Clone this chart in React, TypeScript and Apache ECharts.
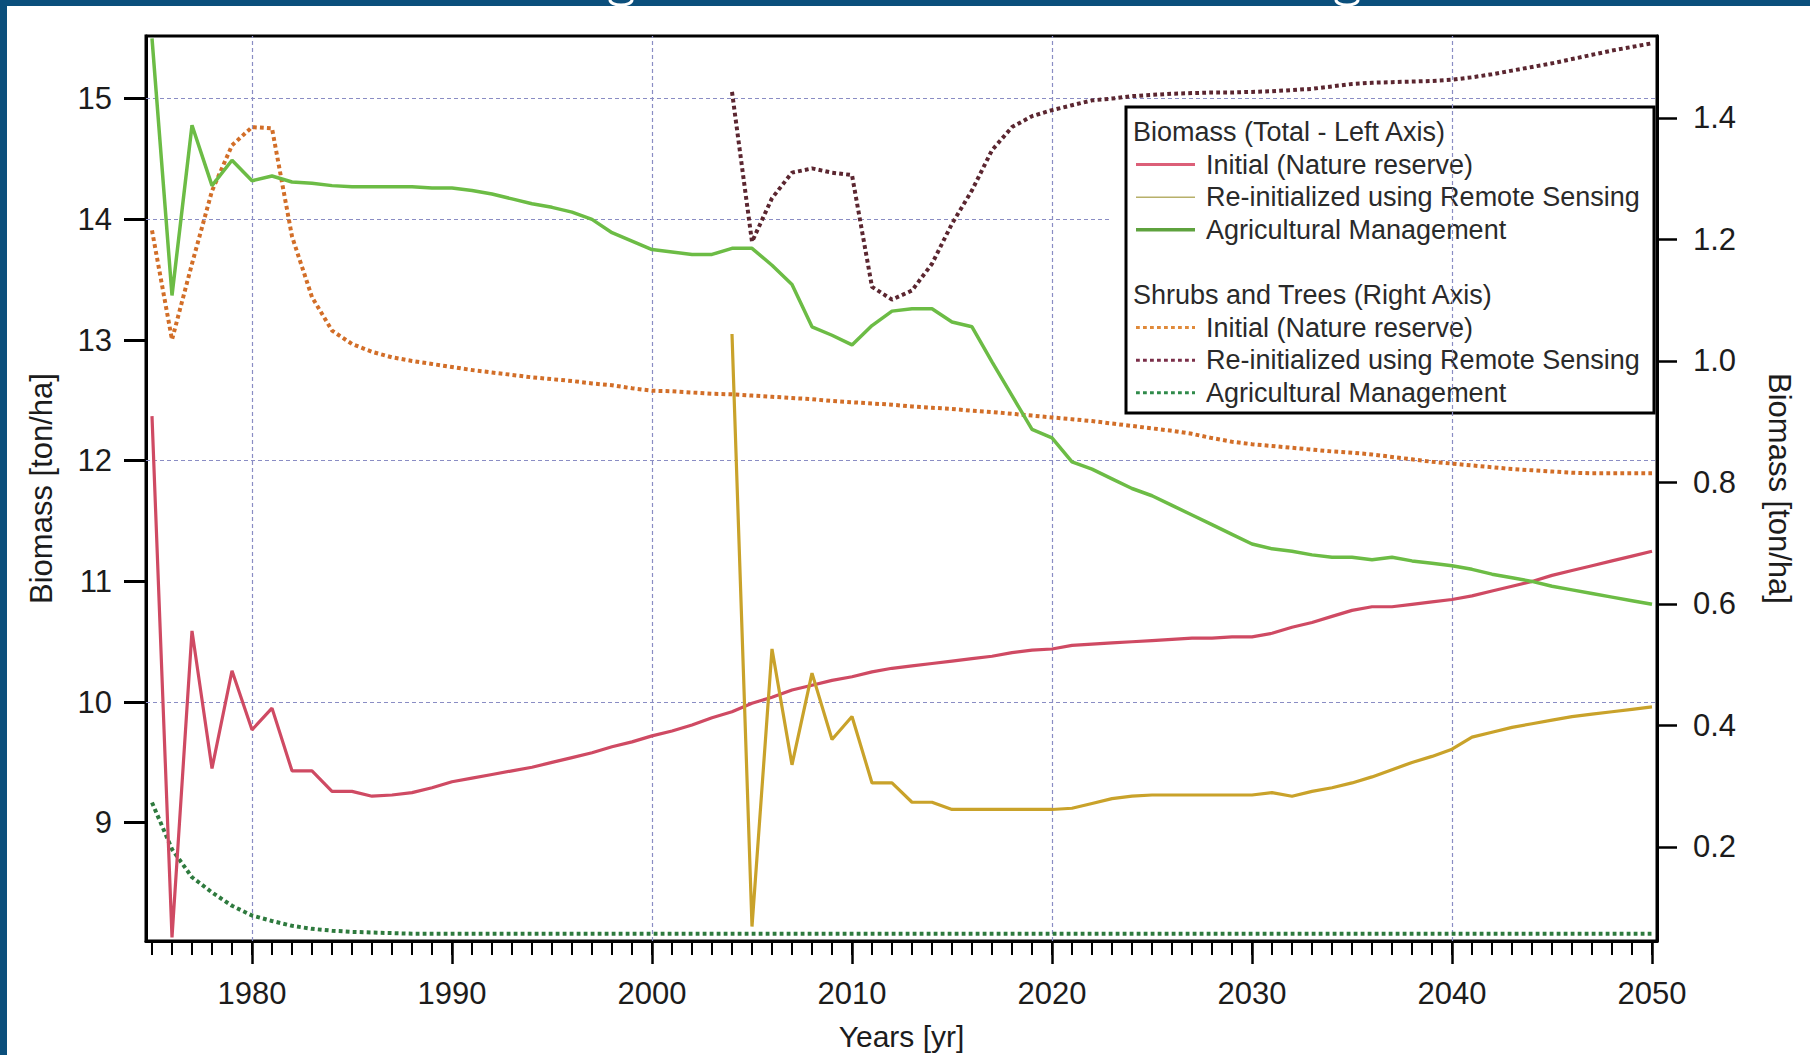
import React, { useEffect, useRef } from 'react';
import * as echarts from 'echarts';

const years = [
  1975, 1976, 1977, 1978, 1979, 1980, 1981, 1982, 1983, 1984,
  1985, 1986, 1987, 1988, 1989, 1990, 1991, 1992, 1993, 1994,
  1995, 1996, 1997, 1998, 1999, 2000, 2001, 2002, 2003, 2004,
  2005, 2006, 2007, 2008, 2009, 2010, 2011, 2012, 2013, 2014,
  2015, 2016, 2017, 2018, 2019, 2020, 2021, 2022, 2023, 2024,
  2025, 2026, 2027, 2028, 2029, 2030, 2031, 2032, 2033, 2034,
  2035, 2036, 2037, 2038, 2039, 2040, 2041, 2042, 2043, 2044,
  2045, 2046, 2047, 2048, 2049, 2050,
];
const reinitYears = [
  2004, 2005, 2006, 2007, 2008, 2009, 2010, 2011, 2012, 2013,
  2014, 2015, 2016, 2017, 2018, 2019, 2020, 2021, 2022, 2023,
  2024, 2025, 2026, 2027, 2028, 2029, 2030, 2031, 2032, 2033,
  2034, 2035, 2036, 2037, 2038, 2039, 2040, 2041, 2042, 2043,
  2044, 2045, 2046, 2047, 2048, 2049, 2050,
];

// Total biomass (left axis)
const totalInitial = [
  12.37, 8.05, 10.59, 9.45, 10.26, 9.77, 9.95, 9.43, 9.43, 9.26,
  9.26, 9.22, 9.23, 9.25, 9.29, 9.34, 9.37, 9.4, 9.43, 9.46,
  9.5, 9.54, 9.58, 9.63, 9.67, 9.72, 9.76, 9.81, 9.87, 9.92,
  9.99, 10.04, 10.1, 10.14, 10.18, 10.21, 10.25, 10.28, 10.3, 10.32,
  10.34, 10.36, 10.38, 10.41, 10.43, 10.44, 10.47, 10.48, 10.49, 10.5,
  10.51, 10.52, 10.53, 10.53, 10.54, 10.54, 10.57, 10.62, 10.66, 10.71,
  10.76, 10.79, 10.79, 10.81, 10.83, 10.85, 10.88, 10.92, 10.96, 11.0,
  11.05, 11.09, 11.13, 11.17, 11.21, 11.25,
];
const totalReinit = [
  13.05, 8.14, 10.44, 9.48, 10.24, 9.69, 9.88, 9.33, 9.33, 9.17,
  9.17, 9.11, 9.11, 9.11, 9.11, 9.11, 9.11, 9.12, 9.16, 9.2,
  9.22, 9.23, 9.23, 9.23, 9.23, 9.23, 9.23, 9.25, 9.22, 9.26,
  9.29, 9.33, 9.38, 9.44, 9.5, 9.55, 9.61, 9.71, 9.75, 9.79,
  9.82, 9.85, 9.88, 9.9, 9.92, 9.94, 9.96,
];
const totalAgri = [
  15.5, 13.37, 14.78, 14.28, 14.49, 14.32, 14.36, 14.31, 14.3, 14.28,
  14.27, 14.27, 14.27, 14.27, 14.26, 14.26, 14.24, 14.21, 14.17, 14.13,
  14.1, 14.06, 14.0, 13.89, 13.82, 13.75, 13.73, 13.71, 13.71, 13.76,
  13.76, 13.62, 13.46, 13.11, 13.04, 12.96, 13.12, 13.24, 13.26, 13.26,
  13.15, 13.11, 12.82, 12.54, 12.26, 12.19, 11.99, 11.93, 11.85, 11.77,
  11.71, 11.63, 11.55, 11.47, 11.39, 11.31, 11.27, 11.25, 11.22, 11.2,
  11.2, 11.18, 11.2, 11.17, 11.15, 11.13, 11.1, 11.06, 11.03, 11.0,
  10.96, 10.93, 10.9, 10.87, 10.84, 10.81,
];

// Shrubs and trees (right axis)
const shrubInitial = [
  1.215, 1.035, 1.16, 1.28, 1.355, 1.385, 1.383, 1.205, 1.105, 1.05,
  1.028, 1.015, 1.006, 1.0, 0.995, 0.99, 0.985, 0.981, 0.977, 0.973,
  0.97, 0.967, 0.963, 0.96, 0.955, 0.951, 0.95, 0.948, 0.946, 0.945,
  0.943, 0.941, 0.939, 0.937, 0.934, 0.932, 0.93, 0.928, 0.925, 0.923,
  0.921, 0.918, 0.916, 0.913, 0.91, 0.907, 0.904, 0.901, 0.897, 0.893,
  0.889, 0.885, 0.88, 0.873, 0.867, 0.863, 0.86, 0.857, 0.854, 0.851,
  0.849, 0.846, 0.842, 0.838, 0.834, 0.831, 0.828, 0.825, 0.822, 0.82,
  0.818, 0.816, 0.815, 0.815, 0.815, 0.815,
];
const shrubReinit = [
  1.443, 1.196, 1.268, 1.31, 1.317, 1.31, 1.306, 1.122, 1.101, 1.116,
  1.16, 1.226, 1.281, 1.347, 1.385, 1.403, 1.413, 1.421, 1.429, 1.432,
  1.436, 1.438, 1.44, 1.441, 1.442, 1.442, 1.443, 1.444, 1.446, 1.448,
  1.452, 1.456, 1.458, 1.459, 1.46, 1.461, 1.463, 1.467, 1.472, 1.478,
  1.484, 1.49, 1.497, 1.504, 1.511, 1.517, 1.523,
];
const shrubAgri = [
  0.273, 0.196, 0.15, 0.125, 0.103, 0.087, 0.078, 0.07, 0.065, 0.062,
  0.06, 0.059, 0.058, 0.057, 0.057, 0.057, 0.057, 0.057, 0.057, 0.057,
  0.057, 0.057, 0.057, 0.057, 0.057, 0.057, 0.057, 0.057, 0.057, 0.057,
  0.057, 0.057, 0.057, 0.057, 0.057, 0.057, 0.057, 0.057, 0.057, 0.057,
  0.057, 0.057, 0.057, 0.057, 0.057, 0.057, 0.057, 0.057, 0.057, 0.057,
  0.057, 0.057, 0.057, 0.057, 0.057, 0.057, 0.057, 0.057, 0.057, 0.057,
  0.057, 0.057, 0.057, 0.057, 0.057, 0.057, 0.057, 0.057, 0.057, 0.057,
  0.057, 0.057, 0.057, 0.057, 0.057, 0.057,
];

const leftTicks = [9, 10, 11, 12, 13, 14, 15];
const rightTicks = [0.2, 0.4, 0.6, 0.8, 1.0, 1.2, 1.4];
const xLabelYears = [1980, 1990, 2000, 2010, 2020, 2030, 2040, 2050];
const hGridFull = [15, 12, 10];
const hGridPartial = 14;
const vGrid = [1980, 2000, 2020, 2040];

const legendHeaders = ['Biomass (Total - Left Axis)', 'Shrubs and Trees (Right Axis)'];
const legendLabels = ['Initial (Nature reserve)', 'Re-initialized using Remote Sensing', 'Agricultural Management'];

const FONT = '"Liberation Sans", Arial, sans-serif';
const TXT = '#1c1c1c';

const C = {
  red: '#cf4a63',
  yellow: '#c9a22a',
  green: '#6cbc45',
  orange: '#d26e28',
  brown: '#5b2630',
  dgreen: '#2e7a3e',
  grid: '#8a8dc4',
  frame: '#0b4f7c',
};

const pair = (xs: number[], ys: number[]) => xs.map((x, i) => [x, ys[i]]);

function buildOption() {
  const dotted = [3.8, 3.2];
  const gridLineStyle = { color: C.grid, width: 1.2, type: [4, 3] as any };

  const markLineData: any[] = [
    ...hGridFull.map((v) => ({ yAxis: v })),
    [{ coord: [1974.7, hGridPartial] }, { coord: [2023, hGridPartial] }],
    ...vGrid.map((v) => ({ xAxis: v })),
  ];

  const legendX = 1126;
  const legendY = 107;
  const rowY = (i: number) => 25 + i * 32.6;
  const sampleStyles = [
    { stroke: '#dc5f78', lineWidth: 3 },
    { stroke: '#b7b06a', lineWidth: 1.6 },
    { stroke: '#5ea23e', lineWidth: 3.5 },
    { stroke: '#e08a3a', lineWidth: 3, lineDash: dotted },
    { stroke: '#7a2e48', lineWidth: 3, lineDash: dotted },
    { stroke: '#2f8a4a', lineWidth: 3, lineDash: dotted },
  ];
  const legendChildren: any[] = [
    {
      type: 'rect',
      shape: { x: 0, y: 0, width: 528, height: 306 },
      style: { fill: '#fff', stroke: '#000', lineWidth: 3 },
    },
  ];
  const rows = [
    { kind: 'h', text: legendHeaders[0] },
    { kind: 's', text: legendLabels[0], s: 0 },
    { kind: 's', text: legendLabels[1], s: 1 },
    { kind: 's', text: legendLabels[2], s: 2 },
    { kind: 'b' },
    { kind: 'h', text: legendHeaders[1] },
    { kind: 's', text: legendLabels[0], s: 3 },
    { kind: 's', text: legendLabels[1], s: 4 },
    { kind: 's', text: legendLabels[2], s: 5 },
  ];
  rows.forEach((r: any, i) => {
    const y = rowY(i);
    if (r.kind === 'h') {
      legendChildren.push({
        type: 'text',
        style: { x: 7, y, text: r.text, font: `27px ${FONT}`, fill: '#2a2a2a', verticalAlign: 'middle' },
      });
    } else if (r.kind === 's') {
      legendChildren.push({
        type: 'line',
        shape: { x1: 10, y1: y, x2: 69, y2: y },
        style: sampleStyles[r.s],
      });
      legendChildren.push({
        type: 'text',
        style: { x: 80, y, text: r.text, font: `27px ${FONT}`, fill: '#2a2a2a', verticalAlign: 'middle' },
      });
    }
  });

  const graphic: any[] = [
    { type: 'rect', left: 0, top: 0, shape: { x: 0, y: 0, width: 7, height: 1055 }, style: { fill: C.frame }, z: 200 },
    { type: 'rect', left: 0, top: 0, shape: { x: 0, y: 0, width: 1810, height: 6 }, style: { fill: C.frame }, z: 200 },
    { type: 'ellipse', x: 621, y: 0, shape: { cx: 0, cy: 0, rx: 11, ry: 5 }, style: { fill: 'none', stroke: '#fff', lineWidth: 3 }, z: 201 },
    { type: 'ellipse', x: 1347, y: 0, shape: { cx: 0, cy: 0, rx: 11, ry: 5 }, style: { fill: 'none', stroke: '#fff', lineWidth: 3 }, z: 201 },
    { type: 'group', x: legendX, y: legendY, z: 100, children: legendChildren },
  ];

  const tickLabel = { fontFamily: FONT, fontSize: 31, color: TXT };

  return {
    animation: false,
    backgroundColor: '#fff',
    grid: {
      left: 146,
      right: 153,
      top: 36,
      bottom: 114,
      show: true,
      borderColor: '#000',
      borderWidth: 3,
      backgroundColor: '#fff',
      containLabel: false,
      outerBoundsMode: 'none',
    },
    xAxis: [
      {
        type: 'value',
        min: 1974.7,
        max: 2050.25,
        position: 'bottom',
        axisLine: { show: true, onZero: false, lineStyle: { color: '#000', width: 3 } },
        axisTick: { show: true, customValues: xLabelYears, length: 23, lineStyle: { color: '#000', width: 2.5 } },
        axisLabel: { show: true, customValues: xLabelYears, margin: 37, ...tickLabel, formatter: (v: number) => String(v) },
        splitLine: { show: false },
        name: 'Years [yr]',
        nameLocation: 'middle',
        nameGap: 80,
        nameTextStyle: { fontFamily: FONT, fontSize: 30, color: TXT },
      },
      {
        type: 'value',
        min: 1974.7,
        max: 2050.25,
        position: 'bottom',
        axisLine: { show: false, onZero: false },
        axisTick: { show: true, customValues: years, length: 14, lineStyle: { color: '#000', width: 2 } },
        axisLabel: { show: false },
        splitLine: { show: false },
      },
    ],
    yAxis: [
      {
        type: 'value',
        position: 'left',
        min: 8.02,
        max: 15.52,
        axisLine: { show: true, onZero: false, lineStyle: { color: '#000', width: 3 } },
        axisTick: { show: true, customValues: leftTicks, length: 22, lineStyle: { color: '#000', width: 3 } },
        axisLabel: { show: true, customValues: leftTicks, margin: 34, ...tickLabel },
        splitLine: { show: false },
        name: 'Biomass [ton/ha]',
        nameLocation: 'middle',
        nameGap: 89,
        nameRotate: 90,
        nameTextStyle: { fontFamily: FONT, fontSize: 31, color: TXT },
      },
      {
        type: 'value',
        position: 'right',
        min: 0.045,
        max: 1.535,
        axisLine: { show: true, onZero: false, lineStyle: { color: '#000', width: 3 } },
        axisTick: { show: true, customValues: rightTicks, length: 20, lineStyle: { color: '#000', width: 2.5 } },
        axisLabel: { show: true, customValues: rightTicks, margin: 36, ...tickLabel, formatter: (v: number) => v.toFixed(1) },
        splitLine: { show: false },
        name: 'Biomass [ton/ha]',
        nameLocation: 'middle',
        nameGap: 107,
        nameRotate: -90,
        nameTextStyle: { fontFamily: FONT, fontSize: 31, color: TXT },
      },
    ],
    graphic,
    series: [
      {
        name: 'Grid',
        type: 'line',
        xAxisIndex: 0,
        yAxisIndex: 0,
        data: [],
        symbol: 'none',
        z: 1,
        markLine: {
          silent: true,
          symbol: 'none',
          label: { show: false },
          lineStyle: gridLineStyle,
          emphasis: { disabled: true },
          data: markLineData,
          z: 1,
        },
      },
      {
        name: 'Shrubs Initial (Nature reserve)',
        type: 'line',
        xAxisIndex: 0,
        yAxisIndex: 1,
        data: pair(years, shrubInitial),
        symbol: 'none',
        lineStyle: { color: C.orange, width: 4, type: dotted },
        z: 2,
      },
      {
        name: 'Shrubs Re-initialized using Remote Sensing',
        type: 'line',
        xAxisIndex: 0,
        yAxisIndex: 1,
        data: pair(reinitYears, shrubReinit),
        symbol: 'none',
        lineStyle: { color: C.brown, width: 4, type: dotted },
        z: 2,
      },
      {
        name: 'Shrubs Agricultural Management',
        type: 'line',
        xAxisIndex: 0,
        yAxisIndex: 1,
        data: pair(years, shrubAgri),
        symbol: 'none',
        lineStyle: { color: C.dgreen, width: 4, type: dotted },
        z: 2,
      },
      {
        name: 'Total Initial (Nature reserve)',
        type: 'line',
        xAxisIndex: 0,
        yAxisIndex: 0,
        data: pair(years, totalInitial),
        symbol: 'none',
        lineStyle: { color: C.red, width: 3.2 },
        z: 3,
      },
      {
        name: 'Total Re-initialized using Remote Sensing',
        type: 'line',
        xAxisIndex: 0,
        yAxisIndex: 0,
        data: pair(reinitYears, totalReinit),
        symbol: 'none',
        lineStyle: { color: C.yellow, width: 3.2 },
        z: 3,
      },
      {
        name: 'Total Agricultural Management',
        type: 'line',
        xAxisIndex: 0,
        yAxisIndex: 0,
        data: pair(years, totalAgri),
        symbol: 'none',
        lineStyle: { color: C.green, width: 3.5 },
        z: 3,
      },
    ],
  };
}

export default function App() {
  const ref = useRef<HTMLDivElement>(null);
  useEffect(() => {
    if (!ref.current) return;
    const chart = echarts.init(ref.current, null, { renderer: 'svg' });
    chart.setOption(buildOption() as any);
    return () => chart.dispose();
  }, []);
  return (
    <div
      ref={ref}
      style={{ position: 'fixed', left: 0, top: 0, width: 1810, height: 1055, background: '#fff' }}
    />
  );
}
